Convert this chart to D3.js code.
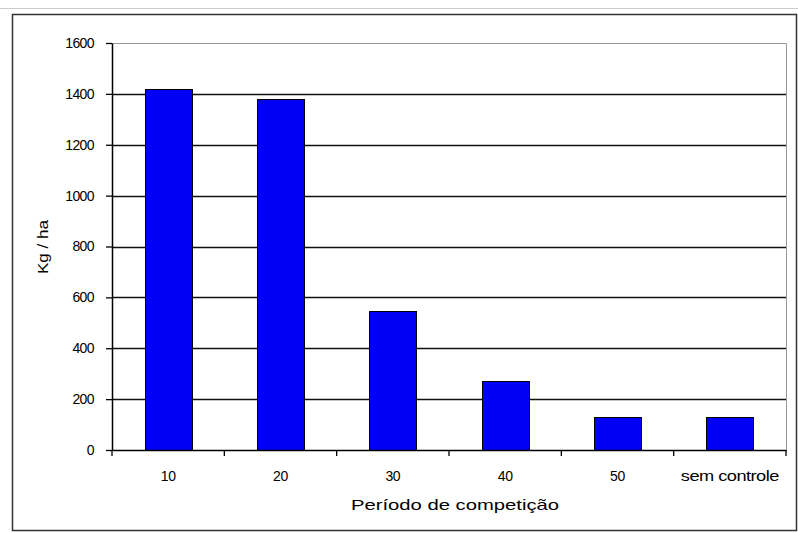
<!DOCTYPE html>
<html><head><meta charset="utf-8">
<script src="https://cdn.jsdelivr.net/npm/d3@7"></script>
<style>body{margin:0;background:#fff;}svg{display:block;font-family:"Liberation Sans",Arial,sans-serif;}</style>
</head><body><svg id="c" width="798" height="533"></svg>
<script>
const categories = ["10","20","30","40","50","sem controle"];
const values = [1420, 1381, 546, 272, 130, 130];
const yTicks = [0,200,400,600,800,1000,1200,1400,1600];

const svg = d3.select("#c");
const L=112, R=786, T=43, B=450;
// outer frame
svg.append("line").attr("x1",0).attr("x2",798).attr("y1",8.5).attr("y2",8.5).attr("stroke","#ccc");
svg.append("rect").attr("x",12.5).attr("y",14.5).attr("width",784).attr("height",516).attr("fill","#fff").attr("stroke","#333").attr("stroke-width",1.5);

const x = d3.scaleBand().domain(categories).range([L,R]).paddingInner(0.58).paddingOuter(0.29);
const xb = d3.scaleBand().domain(categories).range([L,R]);
const y = d3.scaleLinear().domain([0,1600]).range([B,T]);

// plot border (top/right gray)
svg.append("path").attr("d",`M${L},${T+0.5}H${R+0.5}V${B}`).attr("fill","none").attr("stroke","#999").attr("stroke-width",1);
// gridlines
svg.append("g").selectAll("line").data(yTicks.filter(d=>d>0&&d<1600)).join("line")
 .attr("x1",L).attr("x2",R).attr("y1",d=>Math.round(y(d))+0.5).attr("y2",d=>Math.round(y(d))+0.5)
 .attr("stroke","#111").attr("stroke-width",1.3);

// bars
svg.append("g").selectAll("rect").data(values).join("rect")
 .attr("x",(d,i)=>Math.round(x(categories[i]))+0.5).attr("width",Math.round(x.bandwidth()))
 .attr("y",d=>Math.round(y(d))+0.5).attr("height",d=>B-Math.round(y(d)))
 .attr("fill","#0000f4").attr("stroke","#000").attr("stroke-width",1);

// y axis
const ya = svg.append("g").attr("transform",`translate(${L},0)`)
 .call(d3.axisLeft(y).tickValues(yTicks).tickFormat(d3.format("d")).tickSize(6).tickPadding(12).tickSizeOuter(0));
ya.select(".domain").attr("stroke","#000").attr("stroke-width",1.5);
ya.selectAll(".tick line").attr("stroke","#000").attr("stroke-width",1.3);
ya.selectAll("text").attr("font-size",14).attr("fill","#000").attr("letter-spacing","-0.6px");

// x axis
const xa = svg.append("g").attr("transform",`translate(0,${B})`)
 .call(d3.axisBottom(xb).tickSize(0).tickPadding(31));
xa.select(".domain").attr("stroke","#000").attr("stroke-width",1.5);
xa.selectAll("text").attr("font-size",14).attr("fill","#000").attr("dy",0).attr("letter-spacing","-0.4px")
 .each(function(d){ if(d.length>4){ d3.select(this).attr("textLength",98).attr("lengthAdjust","spacingAndGlyphs"); }});
// boundary ticks
svg.append("g").selectAll("line").data(d3.range(categories.length+1)).join("line")
 .attr("x1",i=>L+i*xb.step()).attr("x2",i=>L+i*xb.step()).attr("y1",B).attr("y2",B+6)
 .attr("stroke","#000").attr("stroke-width",1.3);

// titles
svg.append("text").attr("x",455).attr("y",510).attr("text-anchor","middle").attr("font-size",15)
 .attr("textLength",208).attr("lengthAdjust","spacingAndGlyphs").text("Período de competição");
svg.append("text").attr("transform","translate(48,247) rotate(-90)").attr("text-anchor","middle").attr("font-size",15)
 .attr("textLength",54).attr("lengthAdjust","spacingAndGlyphs").text("Kg / ha");
</script></body></html>
